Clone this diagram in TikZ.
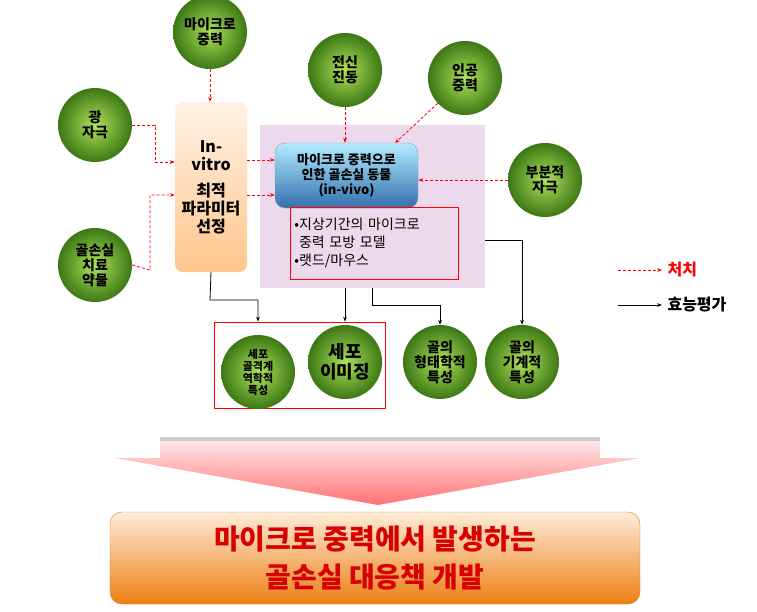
\documentclass[tikz,border=0pt]{standalone}
\usepackage{fontspec}
\setmainfont{Noto Sans CJK KR}
\usetikzlibrary{arrows.meta}
\definecolor{gin}{RGB}{175,225,90}
\definecolor{gout}{RGB}{60,120,20}
\begin{document}
\begin{tikzpicture}[x=1pt,y=-1pt,
 ball/.style={circle,minimum size=74pt,inner sep=0pt,inner color=gin,outer color=gout,font=\bfseries\fontsize{14}{15}\selectfont,align=center,text=black},
 trt/.style={red,densely dashed,thick,-{Stealth[length=5pt]}},
 eff/.style={black,thick,-{Stealth[length=5pt]}}]
\useasboundingbox (0,0) rectangle (757,611);
\fill[white] (0,0) rectangle (757,611);
% boxes
\node[draw=none,fill=violet!15,minimum width=225pt,minimum height=163pt,inner sep=0pt] (purple) at (372.5,206.5) {};
\node[rounded corners=8pt,top color=orange!10,bottom color=orange!45,minimum width=72pt,minimum height=170pt,inner sep=0pt,align=center,font=\bfseries\fontsize{16}{18}\selectfont] (vitro) at (211,187) {In-\\vitro\\[8pt]최적\\파라미터\\선정};
\node[rounded corners=10pt,top color=blue!25!cyan!30,bottom color=blue!50!cyan!60!black!80,minimum width=143pt,minimum height=65pt,inner sep=0pt,align=center,font=\bfseries\fontsize{13}{15}\selectfont,draw=blue!40!black!40] (vivo) at (346.5,175.5) {마이크로 중력으로\\인한 골손실 동물\\(in-vivo)};
\node[draw=red,thick,minimum width=168pt,minimum height=72pt,inner sep=3pt,align=left,anchor=north west,font=\fontsize{14}{18}\selectfont,text width=160pt] (model) at (290,207) {•지상기간의 마이크로\\\ 중력 모방 모델\\•랫드/마우스};
\node[draw=red,thick,minimum width=171pt,minimum height=86pt,inner sep=0pt] (redbox) at (299.5,365) {};
% balls
\node[ball] (mg) at (210,32) {마이크로\\중력};
\node[ball] (light) at (95,125) {광\\자극};
\node[ball] (vib) at (345,70) {전신\\진동};
\node[ball] (ag) at (465,78) {인공\\중력};
\node[ball] (part) at (545,180) {부분적\\자극};
\node[ball] (drug) at (95,265) {골손실\\치료\\약물};
\node[ball,font=\bfseries\fontsize{11}{12}\selectfont] (cell) at (258,372) {세포\\골격계\\역학적\\특성};
\node[ball,font=\bfseries\fontsize{18}{20}\selectfont] (img) at (345,362) {세포\\이미징};
\node[ball] (morph) at (440,362) {골의\\형태학적\\특성};
\node[ball] (mech) at (522,362) {골의\\기계적\\특성};
% treatment arrows
\draw[trt] (mg) -- (vitro.north -| mg);
\draw[trt] (light.east) -- (155,125) |- (vitro.west |- 0,162);
\draw[trt] (drug.east) -- (150,270) |- (vitro.west |- 0,195);
\draw[trt] (vitro.east |- 0,160) -- (vivo.west |- 0,160);
\draw[trt] (vitro.east |- 0,195) -- (vivo.west |- 0,195);
\draw[trt] (vib) -- (vivo.north -| vib);
\draw[trt] (ag) -- (395,143);
\draw[trt] (part.west) -- (vivo.east |- part.west);
% evaluation
\draw[eff] (vitro.south) -- (210,300) -| (redbox.north -| cell);
\draw[eff] (purple.south -| img) -- (redbox.north -| img);
\draw[eff] (purple.south -| 372,0) -- (372,305) -| (morph.north);
\draw[eff] (purple.east |- 0,240) -| (mech.north);
% legend
\coordinate (l1) at (618,270); \coordinate (l1e) at (662,270);
\draw[trt] (l1) -- (l1e);
\node[anchor=west,text=red,font=\bfseries\fontsize{16}{18}\selectfont] (lt) at (664,270) {처치};
\coordinate (l2) at (618,305); \coordinate (l2e) at (662,305);
\draw[eff] (l2) -- (l2e);
\node[anchor=west,font=\bfseries\fontsize{16}{18}\selectfont] (le) at (664,305) {효능평가};
% big arrow
\fill[gray!40] (160,437) rectangle (600,441);
\shade[top color=red!10,bottom color=red!55] (160,441) -- (600,441) -- (600,458) -- (640,458) -- (378,505) -- (115,458) -- (160,458) -- cycle;
\node[rounded corners=12pt,top color=orange!15!white,bottom color=orange!70!brown,minimum width=530pt,minimum height=92pt,inner sep=0pt,align=center,text=red!85!black,font=\bfseries\fontsize{28}{38}\selectfont,draw=orange!50!brown] (goal) at (375,558) {마이크로 중력에서 발생하는\\골손실 대응책 개발};
\end{tikzpicture}
\end{document}
